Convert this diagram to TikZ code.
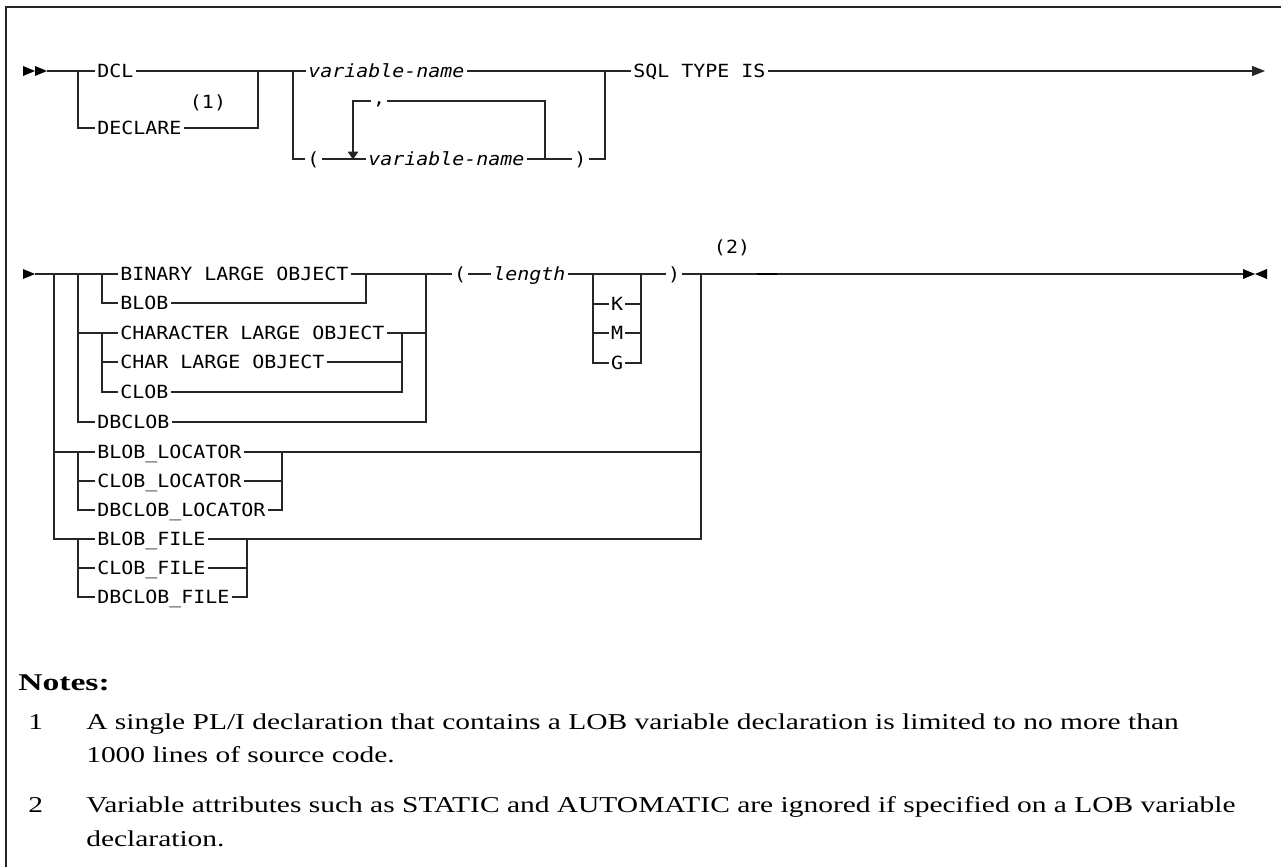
\documentclass[tikz,border=0pt]{standalone}
\usepackage{fontspec}
\usetikzlibrary{arrows.meta}
\newfontfamily\diagfont[FakeStretch=1.1]{DejaVu Sans Mono}
\newfontfamily\notefont[FakeStretch=1.3]{Liberation Serif}
\newfontfamily\headfont[FakeStretch=1.4]{Liberation Serif}
\tikzset{
  rr/.style={draw=black!85, line width=0.9pt},
  kw/.style={font=\diagfont\fontsize{13.6pt}{16pt}\selectfont, inner xsep=1.5pt, inner ysep=0pt,
             text height=10pt, text depth=0pt, anchor=west},
  var/.style={kw, font=\diagfont\fontsize{13.6pt}{16pt}\selectfont\itshape},
  fn/.style={kw, anchor=center},
  nt/.style={font=\notefont\fontsize{17pt}{20pt}\selectfont, inner sep=0pt, anchor=base west},
  nhead/.style={nt, font=\headfont\fontsize{18pt}{21pt}\selectfont\bfseries},
  tip/.style={fill=black},
  endarrow/.style={rr, -{Triangle[length=9.75pt, width=7.5pt]}}
}
\begin{document}
\begin{tikzpicture}[x=0.75pt, y=-0.75pt]
\useasboundingbox (0,0) rectangle (1281,867);
% frame
\draw[line width=1.5pt, black!85] (6,867) -- (6,7) -- (1281,7);

% ---------------- first part ----------------
\coordinate (startA) at (47,71);
\coordinate (jA1) at (78,71);
\coordinate (jA2) at (258,71);
\coordinate (jA3) at (293,71);
\coordinate (jA4) at (605,71);
\coordinate (endA) at (1265,71);
\coordinate (loopL) at (353,101);
\coordinate (loopR) at (545,101);
\coordinate (loopRb) at (545,159);
\coordinate (loopLb) at (353,159.5);

\fill[tip] (23,66) -- (35,71) -- (23,76) -- cycle;
\fill[tip] (35,66) -- (47,71) -- (35,76) -- cycle;

\node[kw] (dcl) at (95,71) {DCL};
\node[kw] (declare) at (95,128) {DECLARE};
\node[fn] (n1) at (208,102) {(1)};
\node[var] (vn) at (306,71) {variable-name};
\node[kw] (lp) at (305,159) {(};
\node[var] (vn2) at (366,159) {variable-name};
\node[kw] (rp) at (572,159) {)};
\node[kw, anchor=base] (comma) at (379,104) {,};
\node[kw] (sql) at (631,71) {SQL TYPE IS};

\draw[rr] (startA) -- (dcl.west);
\draw[rr] (jA1) |- (declare.west);
\draw[rr] (dcl.east) -- (vn.west);
\draw[rr] (declare.east) -| (jA2);
\draw[rr] (jA3) |- (lp.west);
\draw[rr] (lp.east) -- (vn2.west);
\draw[rr] (vn2.east) -- (rp.west);
\draw[rr] (rp.east) -| (jA4);
\draw[rr] (vn.east) -- (sql.west);
\draw[endarrow] (sql.east) -- (endA);
% repeat loop
\draw[rr] (loopRb) -- (loopR) -- (loopR -| comma.east);
\draw[rr, -{Triangle[length=6pt, width=8pt]}] (loopL -| comma.west) -- (loopL) -- (loopLb);

% ---------------- second part ----------------
\coordinate (startB) at (35,274);
\coordinate (b54) at (54,274);
\coordinate (b78) at (78,274);
\coordinate (b78c) at (78,333);
\coordinate (b102) at (102,274);
\coordinate (b102c) at (102,333);
\coordinate (b102d) at (102,362);
\coordinate (r366) at (366,274);
\coordinate (r402) at (402,333);
\coordinate (r426) at (426,274);
\coordinate (r426c) at (426,333);
\coordinate (k593) at (593,274);
\coordinate (k641) at (641,274);
\coordinate (big) at (701,274);
\coordinate (l78) at (78,452);
\coordinate (l78b) at (78,481);
\coordinate (l282) at (282,452);
\coordinate (lend) at (701,452);
\coordinate (f78) at (78,539);
\coordinate (f78b) at (78,568);
\coordinate (f247) at (247,539);
\coordinate (fend) at (701,539);
\coordinate (endB) at (1243,274);

\fill[tip] (23,269) -- (35,274) -- (23,279) -- cycle;

\node[kw] (binary) at (118,274) {BINARY LARGE OBJECT};
\node[kw] (blob) at (118,303) {BLOB};
\node[kw] (character) at (118,333) {CHARACTER LARGE OBJECT};
\node[kw] (charlo) at (118,362) {CHAR LARGE OBJECT};
\node[kw] (clob) at (118,392) {CLOB};
\node[kw] (dbclob) at (95,422) {DBCLOB};
\node[kw] (blobloc) at (95,452) {BLOB\_LOCATOR};
\node[kw] (clobloc) at (95,481) {CLOB\_LOCATOR};
\node[kw] (dbclobloc) at (95,510) {DBCLOB\_LOCATOR};
\node[kw] (blobfile) at (95,539) {BLOB\_FILE};
\node[kw] (clobfile) at (95,568) {CLOB\_FILE};
\node[kw] (dbclobfile) at (95,597) {DBCLOB\_FILE};
\node[fn] (lp2) at (460,274) {(};
\node[var] (len) at (491,274) {length};
\node[fn] (K) at (617,304) {K};
\node[fn] (M) at (617,333) {M};
\node[fn] (G) at (617,363) {G};
\node[fn] (rp2) at (674,274) {)};
\node[fn] (n2) at (732,247) {(2)};

% left branches
\draw[rr] (startB) -- (binary.west);
\draw[rr] (b54) |- (blobloc.west);
\draw[rr] (b54) |- (blobfile.west);
\draw[rr] (b78) |- (dbclob.west);
\draw[rr] (b78c) -- (character.west);
\draw[rr] (b102) |- (blob.west);
\draw[rr] (b102c) |- (clob.west);
\draw[rr] (b102d) -- (charlo.west);
\draw[rr] (l78) |- (dbclobloc.west);
\draw[rr] (l78b) -- (clobloc.west);
\draw[rr] (f78) |- (dbclobfile.west);
\draw[rr] (f78b) -- (clobfile.west);
% right joins
\draw[rr] (binary.east) -- (lp2.west);
\draw[rr] (blob.east) -| (r366);
\draw[rr] (character.east) -- (r426c);
\draw[rr] (charlo.east) -| (r402);
\draw[rr] (clob.east) -| (r402);
\draw[rr] (dbclob.east) -| (r426);
\draw[rr] (lp2.east) -- (len.west);
\draw[rr] (len.east) -- (rp2.west);
\draw[rr] (k593) |- (G.west);
\draw[rr] (k593 |- K.west) -- (K.west);
\draw[rr] (k593 |- M.west) -- (M.west);
\draw[rr] (k641) |- (G.east);
\draw[rr] (K.east) -- (k641 |- K.east);
\draw[rr] (M.east) -- (k641 |- M.east);
\draw[rr] (blobloc.east) -- (lend);
\draw[rr] (clobloc.east) -| (l282);
\draw[rr] (dbclobloc.east) -| (l282);
\draw[rr] (blobfile.east) -- (fend) -- (big);
\draw[rr] (clobfile.east) -| (f247);
\draw[rr] (dbclobfile.east) -| (f247);
\draw[rr] (rp2.east) -- (endB);
\draw[line width=1.6pt, black] (757,274) -- (777,274);
\fill[tip] (1243,269) -- (1255,274) -- (1243,279) -- cycle;
\fill[tip] (1267,269) -- (1255,274) -- (1267,279) -- cycle;

% ---------------- notes ----------------
\node[nhead] (notes) at (18,690) {Notes:};
\node[nt] (k1) at (28,729) {1};
\node[nt] (t1a) at (86,729) {A single PL/I declaration that contains a LOB variable declaration is limited to no more than};
\node[nt] (t1b) at (86,762) {1000 lines of source code.};
\node[nt] (k2) at (28,812) {2};
\node[nt] (t2a) at (86,812) {Variable attributes such as STATIC and AUTOMATIC are ignored if specified on a LOB variable};
\node[nt] (t2b) at (86,846) {declaration.};
\end{tikzpicture}
\end{document}
